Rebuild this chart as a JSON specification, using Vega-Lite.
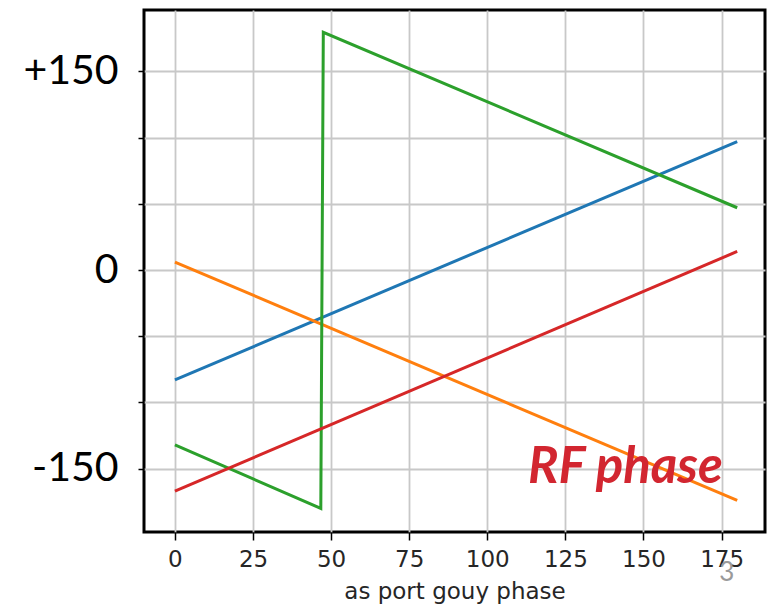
{
  "$schema": "https://vega.github.io/schema/vega-lite/v6.json",
  "width": 621,
  "height": 522,
  "autosize": {"type": "none"},
  "padding": {"left": 144, "top": 10, "right": 12, "bottom": 76},
  "background": "white",
  "config": {
    "view": {"stroke": "black", "strokeWidth": 3},
    "axis": {"gridColor": "#c8c8c8", "gridWidth": 1.8, "domain": false, "tickColor": "black", "tickWidth": 1.5}
  },
  "datasets": {
    "lines": [
      {"series": "s1", "x": 0, "y": -83},
      {"series": "s1", "x": 180, "y": 97},
      {"series": "s2", "x": 0, "y": 6},
      {"series": "s2", "x": 180, "y": -174},
      {"series": "s3", "x": 0, "y": -132},
      {"series": "s3", "x": 46.7, "y": -180},
      {"series": "s3", "x": 47.5, "y": 179.5},
      {"series": "s3", "x": 180, "y": 47},
      {"series": "s4", "x": 0, "y": -167},
      {"series": "s4", "x": 180, "y": 14}
    ],
    "notes": [
      {"label": "RF phase", "x": 144.2, "y": -161}
    ],
    "page": [
      {"label": "3", "x": 176.7, "y": -229}
    ]
  },
  "layer": [
    {
      "data": {"name": "lines"},
      "mark": {"type": "line", "strokeWidth": 3},
      "encoding": {
        "x": {
          "field": "x", "type": "quantitative",
          "scale": {"domain": [-9.9, 188.9], "nice": false, "zero": false},
          "axis": {
            "values": [0, 25, 50, 75, 100, 125, 150, 175],
            "labelFont": "DejaVu Sans", "labelFontSize": 23, "labelColor": "#262626",
            "tickSize": 8, "labelPadding": 8,
            "title": "as port gouy phase", "titleFont": "DejaVu Sans", "titleFontSize": 23,
            "titleFontWeight": "normal", "titleColor": "#262626", "titlePadding": 9
          }
        },
        "y": {
          "field": "y", "type": "quantitative",
          "scale": {"domain": [-197.8, 196.3], "nice": false, "zero": false},
          "axis": {
            "values": [-150, -100, -50, 0, 50, 100, 150],
            "labelExpr": "datum.value == 150 ? '+150' : (datum.value == 0 ? '0' : (datum.value == -150 ? '-150' : ''))",
            "labelFont": "Lato", "labelFontSize": 41, "labelColor": "black",
            "tickSize": 6, "labelPadding": 20,
            "title": null
          }
        },
        "color": {
          "field": "series", "type": "nominal",
          "scale": {"domain": ["s1", "s2", "s3", "s4"], "range": ["#1f77b4", "#ff7f0e", "#2ca02c", "#d62728"]},
          "legend": null
        }
      }
    },
    {
      "data": {"name": "notes"},
      "mark": {"type": "text", "font": "Lato", "fontSize": 51, "fontWeight": "bold", "fontStyle": "italic", "color": "#d22630", "align": "center", "baseline": "alphabetic"},
      "encoding": {
        "x": {"field": "x", "type": "quantitative"},
        "y": {"field": "y", "type": "quantitative"},
        "text": {"field": "label"}
      }
    },
    {
      "data": {"name": "page"},
      "mark": {"type": "text", "font": "Lato", "fontSize": 26, "color": "#9a9a9a", "align": "center", "baseline": "middle"},
      "encoding": {
        "x": {"field": "x", "type": "quantitative"},
        "y": {"field": "y", "type": "quantitative"},
        "text": {"field": "label"}
      }
    }
  ]
}
